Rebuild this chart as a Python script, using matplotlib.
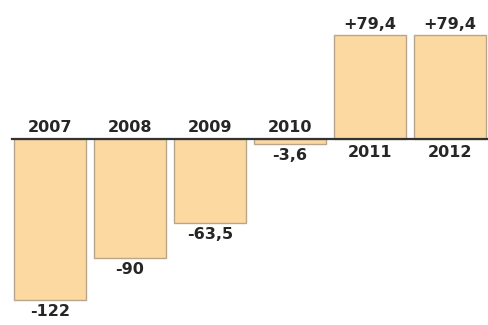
import matplotlib.pyplot as plt

years = ["2007", "2008", "2009", "2010", "2011", "2012"]
values = [-122, -90, -63.5, -3.6, 79.4, 79.4]
value_labels = ["-122", "-90", "-63,5", "-3,6", "+79,4", "+79,4"]

fill = "#fdd9a2"
edge = "#b9a58a"
ink = "#262626"

fig = plt.figure(figsize=(4.89, 3.25), dpi=100)
ax = fig.add_axes([0, 0, 1, 1])

x = list(range(len(years)))
ax.bar(x, values, width=0.9, color=fill, edgecolor=edge, linewidth=1.0, zorder=2)
ax.axhline(0, xmin=0.025, xmax=1, color="#333333", linewidth=1.6, zorder=3)

for xi, v, yr, lab in zip(x, values, years, value_labels):
    if v < 0:
        ax.annotate(yr, (xi, 0), xytext=(0, 3), textcoords="offset points",
                    ha="center", va="bottom", fontsize=11.5, fontweight="bold", color=ink)
        ax.annotate(lab, (xi, v), xytext=(0, -3), textcoords="offset points",
                    ha="center", va="top", fontsize=11.5, fontweight="bold", color=ink)
    else:
        ax.annotate(yr, (xi, 0), xytext=(0, -4), textcoords="offset points",
                    ha="center", va="top", fontsize=11.5, fontweight="bold", color=ink)
        ax.annotate(lab, (xi, v), xytext=(0, 2), textcoords="offset points",
                    ha="center", va="bottom", fontsize=11.5, fontweight="bold", color=ink)

ax.set_xlim(-0.625, 5.49)
ax.set_ylim(-141, 106)
ax.axis("off")

fig.savefig("out.png", dpi=100)
